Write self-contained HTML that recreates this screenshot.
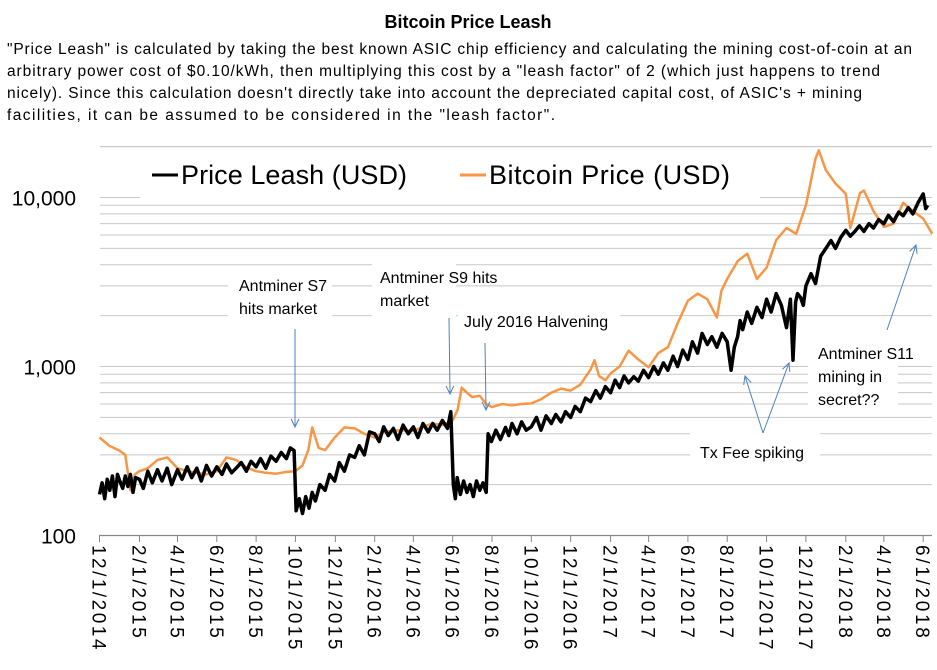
<!DOCTYPE html>
<html><head><meta charset="utf-8">
<style>
body{margin:0;background:#fff;width:937px;height:665px;overflow:hidden;font-family:"Liberation Sans",sans-serif}
</style></head>
<body>
<svg id="chart" width="937" height="665" xmlns="http://www.w3.org/2000/svg" font-family="Liberation Sans, sans-serif">
<text x="468" y="28" text-anchor="middle" font-size="18" font-weight="bold">Bitcoin Price Leash</text>
<g font-size="15.5" fill="#000">
<text x="7" y="54" textLength="905" lengthAdjust="spacing">"Price Leash" is calculated by taking the best known ASIC chip efficiency and calculating the mining cost-of-coin at an</text>
<text x="7" y="76" textLength="873" lengthAdjust="spacing">arbitrary power cost of $0.10/kWh, then multiplying this cost by a "leash factor" of 2 (which just happens to trend</text>
<text x="7" y="98" textLength="855" lengthAdjust="spacing">nicely). Since this calculation doesn't directly take into account the depreciated capital cost, of ASIC's + mining</text>
<text x="7" y="120" textLength="548" lengthAdjust="spacing">facilities, it can be assumed to be considered in the "leash factor".</text>
</g>
<g id="grid"></g>
<g id="masks"></g>
<g id="series"></g>
<g id="axes"></g>
<g id="annot"></g>
</svg>
<script>
const yTicks=[100,1000,10000];
const yTickLabels=["100","1,000","10,000"];
const xTickDays=[0,62,121,182,243,304,366,427,487,548,609,670,731,793,852,913,974,1035,1096,1158,1217,1278];
const xTickLabels=["12/1/2014","2/1/2015","4/1/2015","6/1/2015","8/1/2015","10/1/2015","12/1/2015","2/1/2016","4/1/2016","6/1/2016","8/1/2016","10/1/2016","12/1/2016","2/1/2017","4/1/2017","6/1/2017","8/1/2017","10/1/2017","12/1/2017","2/1/2018","4/1/2018","6/1/2018"];
const leashDays=[0,4,8,12,16,20,24,28,31,36,40,44,48,52,56,62,68,75,82,90,97,105,112,121,128,136,143,151,158,166,174,182,190,197,205,212,220,228,235,243,250,258,266,274,282,290,296,302,305,310,315,320,325,330,335,342,350,357,365,372,380,388,396,403,411,419,427,434,441,448,456,463,471,479,487,494,502,510,517,524,532,540,545,549,552,555,560,565,570,575,580,585,590,595,600,603,608,615,622,630,635,640,648,655,662,670,678,685,693,701,708,716,723,731,738,746,754,762,770,777,785,793,800,807,814,821,829,836,844,852,860,867,875,882,890,897,905,913,920,928,935,943,950,958,966,974,980,985,990,994,998,1005,1012,1020,1028,1035,1042,1050,1058,1066,1072,1076,1080,1083,1088,1092,1096,1104,1111,1119,1127,1135,1142,1150,1158,1165,1172,1179,1186,1194,1201,1209,1217,1224,1232,1240,1247,1255,1262,1270,1278,1282,1285,1289,1292];
const leashVals=[175,205,165,215,185,225,170,230,212,190,225,195,230,180,220,215,190,240,205,245,210,250,200,245,215,255,220,250,210,260,225,255,230,265,235,250,270,240,275,255,285,250,295,275,310,285,330,318,140,165,135,170,145,180,160,200,185,230,210,270,240,300,290,340,300,410,400,360,440,390,430,370,450,400,440,380,460,410,460,420,480,430,540,200,165,220,175,210,180,200,170,210,185,205,180,400,360,420,370,436,390,460,400,470,420,440,500,420,510,460,520,470,540,500,580,540,650,620,720,650,760,700,830,750,880,800,870,820,950,860,1000,900,1050,950,1150,1000,1250,1100,1400,1200,1570,1350,1500,1300,1570,1400,950,1300,1500,1870,1650,2100,1800,2240,1950,2500,2100,2700,2300,1700,2500,1090,2400,2700,2550,2300,3000,3540,3100,4500,5000,5560,5000,5800,6400,5900,6300,6800,6300,7000,6600,7400,7000,7850,7200,8200,7800,8700,8000,9300,10500,8600,9000];
const priceDays=[0,15,31,40,48,55,62,75,90,105,121,136,151,166,182,197,212,228,243,258,274,290,304,315,324,330,340,350,365,380,396,411,427,441,456,471,487,502,517,532,548,556,562,570,578,590,600,609,625,640,655,670,685,701,716,731,746,762,768,775,785,793,807,821,836,852,867,882,897,913,928,943,958,965,974,990,1005,1020,1035,1050,1066,1081,1096,1111,1116,1127,1142,1158,1165,1180,1186,1201,1217,1232,1247,1262,1278,1292];
const priceVals=[380,340,318,300,185,230,240,250,280,290,250,240,235,230,240,290,280,253,240,235,232,238,240,260,320,436,330,320,380,436,430,400,380,410,417,420,415,440,460,450,480,560,750,700,660,670,600,575,600,590,600,605,640,700,740,720,780,960,1090,880,830,910,1000,1240,1100,990,1200,1300,1800,2450,2700,2500,1950,2800,3300,4200,4650,3300,3850,5600,6600,6100,9000,17000,19000,14500,12100,10500,6600,10600,11000,8300,6700,7000,9300,8300,7500,6100];

const X0=99.5,PXD=0.6445,Y0=535.5,DEC=169;
const xs=d=>X0+d*PXD;
const ys=v=>Y0-(Math.log10(v)-2)*DEC;
const NS="http://www.w3.org/2000/svg";
function mk(tag,attrs,parent){const e=document.createElementNS(NS,tag);for(const k in attrs)e.setAttribute(k,attrs[k]);parent.appendChild(e);return e;}
const grid=document.getElementById('grid'),axes=document.getElementById('axes'),series=document.getElementById('series'),masks=document.getElementById('masks'),annot=document.getElementById('annot');

for(let dec=100;dec<=10000;dec*=10){for(let m=1;m<=9;m++){const v=dec*m;if(v>20000||v===100)continue;
 const ln=mk('line',{x1:100,x2:932,y1:ys(v),y2:ys(v),stroke:'#c8c8c8','stroke-width':1},grid);
 
 }}
const l20=mk('line',{x1:100,x2:932,y1:ys(20000),y2:ys(20000),stroke:'#c8c8c8','stroke-width':1},grid);



[[140,152,620,46],[228,266,104,58],[372,264,84,56],[458,305,162,30],[690,432,130,38],[808,336,90,76]].forEach(r=>{
 const b=mk('rect',{x:r[0],y:r[1],width:r[2],height:r[3],fill:'#fff'},masks);
 
 });

const ax=mk('line',{x1:99,x2:932,y1:535.5,y2:535.5,stroke:'#888','stroke-width':1.2},axes);


xTickDays.forEach((d,i)=>{
 const t=mk('line',{x1:xs(d),x2:xs(d),y1:535.5,y2:542,stroke:'#888','stroke-width':1},axes);
 
 
 const tx=mk('text',{x:0,y:0,'font-size':19,textLength:xTickLabels[i].length*11.6,lengthAdjust:'spacing',transform:`translate(${xs(d)-7},545) rotate(90)`},axes);
 tx.textContent=xTickLabels[i];
 
 
});
yTicks.forEach((v,i)=>{
 const tx=mk('text',{x:76,y:ys(v)+8,'text-anchor':'end','font-size':21},axes);
 tx.textContent=yTickLabels[i];
 
 
});

function path(days,vals){return days.map((d,i)=>(i?'L':'M')+xs(d).toFixed(1)+','+ys(vals[i]).toFixed(1)).join('');}
const pp=mk('path',{d:path(priceDays,priceVals),fill:'none',stroke:'#f79646','stroke-width':2.5,'stroke-linejoin':'round'},series);


const lp=mk('path',{d:path(leashDays,leashVals),fill:'none',stroke:'#000','stroke-width':3.5,'stroke-linejoin':'round'},series);



const lg=mk('g',{},annot);


mk('line',{x1:152,x2:178,y1:175,y2:175,stroke:'#000','stroke-width':3},lg);
const lt1=mk('text',{x:181,y:184,'font-size':27,textLength:226,lengthAdjust:'spacing'},lg);lt1.textContent='Price Leash (USD)';


mk('line',{x1:460,x2:486,y1:175,y2:175,stroke:'#f79646','stroke-width':3},lg);
const lt2=mk('text',{x:489,y:184,'font-size':27,textLength:241,lengthAdjust:'spacing'},lg);lt2.textContent='Bitcoin Price (USD)';



function note(lines,x,y,name){lines.forEach((s,i)=>{const t=mk('text',{x:x,y:y+i*23,'font-size':16},annot);t.textContent=s;
 
 });}
note(['Antminer S7','hits market'],239,291,'annotation-s7');
note(['Antminer S9 hits','market'],380,283,'annotation-s9');
note(['July 2016 Halvening'],464,327,'annotation-halvening');
note(['Tx Fee spiking'],700,458,'annotation-tx-fee');
note(['Antminer S11','mining in','secret??'],818,359,'annotation-s11');
function arrow(x1,y1,x2,y2){const g=mk('g',{stroke:'#4f81bd','stroke-width':1,fill:'none'},annot);
 
 
 mk('line',{x1:x1,y1:y1,x2:x2,y2:y2},g);
 const a=Math.atan2(y2-y1,x2-x1),L=9,s=0.45;
 mk('polyline',{points:`${x2-L*Math.cos(a-s)},${y2-L*Math.sin(a-s)} ${x2},${y2} ${x2-L*Math.cos(a+s)},${y2-L*Math.sin(a+s)}`},g);}
arrow(295,329,295,427);
arrow(449,318,450,394);
arrow(485,343,486,410);
arrow(763,433,745,376);
arrow(763,433,789,363);
arrow(887,330,916,245);
</script>
</body></html>
